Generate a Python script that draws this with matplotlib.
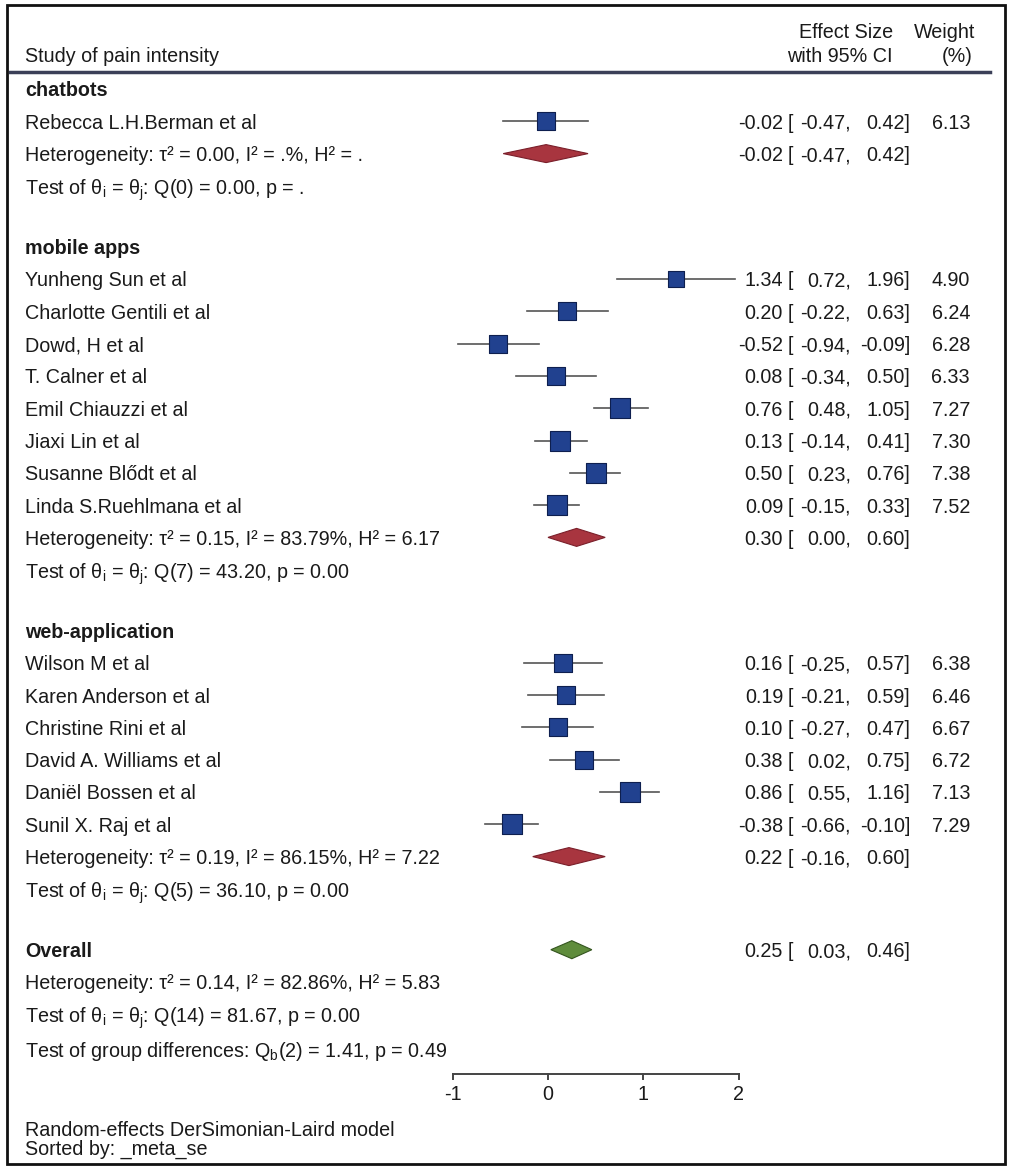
import numpy as np
import matplotlib
matplotlib.use('Agg')
import matplotlib.pyplot as plt
from matplotlib.patches import Rectangle
from matplotlib.transforms import blended_transform_factory

plt.rcParams['font.family'] = ['Liberation Sans', 'DejaVu Sans']
plt.rcParams['mathtext.fontset'] = 'custom'
plt.rcParams['mathtext.rm'] = 'Liberation Sans'
plt.rcParams['mathtext.it'] = 'Liberation Sans:italic'
plt.rcParams['mathtext.default'] = 'regular'

# data
groups = ['chatbots', 'mobile apps', 'web-application']
studies = [
    ['Rebecca L.H.Berman et al'],
    ['Yunheng Sun et al', 'Charlotte Gentili et al', 'Dowd, H et al', 'T. Calner et al',
     'Emil Chiauzzi et al', 'Jiaxi Lin et al', 'Susanne Blődt et al', 'Linda S.Ruehlmana et al'],
    ['Wilson M et al', 'Karen Anderson et al', 'Christine Rini et al', 'David A. Williams et al',
     'Daniël Bossen et al', 'Sunil X. Raj et al'],
]
est = [[-0.02], [1.34, 0.20, -0.52, 0.08, 0.76, 0.13, 0.50, 0.09],
       [0.16, 0.19, 0.10, 0.38, 0.86, -0.38]]
lo = [[-0.47], [0.72, -0.22, -0.94, -0.34, 0.48, -0.14, 0.23, -0.15],
      [-0.25, -0.21, -0.27, 0.02, 0.55, -0.66]]
hi = [[0.42], [1.96, 0.63, -0.09, 0.50, 1.05, 0.41, 0.76, 0.33],
      [0.57, 0.59, 0.47, 0.75, 1.16, -0.10]]
weights = [[6.13], [4.90, 6.24, 6.28, 6.33, 7.27, 7.30, 7.38, 7.52],
           [6.38, 6.46, 6.67, 6.72, 7.13, 7.29]]
pooled_est = [-0.02, 0.30, 0.22]
pooled_lo = [-0.47, 0.00, -0.16]
pooled_hi = [0.42, 0.60, 0.60]
het_text = [r'Heterogeneity: τ² = 0.00, I² = .%, H² = .',
            r'Heterogeneity: τ² = 0.15, I² = 83.79%, H² = 6.17',
            r'Heterogeneity: τ² = 0.19, I² = 86.15%, H² = 7.22']
test_text = [r'Test of θ$_i$ = θ$_j$: Q(0) = 0.00, p = .',
             r'Test of θ$_i$ = θ$_j$: Q(7) = 43.20, p = 0.00',
             r'Test of θ$_i$ = θ$_j$: Q(5) = 36.10, p = 0.00']
overall = (0.25, 0.03, 0.46)
overall_het = r'Heterogeneity: τ² = 0.14, I² = 82.86%, H² = 5.83'
overall_test = r'Test of θ$_i$ = θ$_j$: Q(14) = 81.67, p = 0.00'
group_diff = r'Test of group differences: Q$_b$(2) = 1.41, p = 0.49'
xticks = [-1, 0, 1, 2]

W, H = 1013, 1170
fig = plt.figure(figsize=(W / 100, H / 100), dpi=100)
ax = fig.add_axes([0, 0, 1, 1])
x0, ppu = 548, 95.3
ax.set_xlim(-x0 / ppu, (W - x0) / ppu)
ax.set_ylim(H, 0)
ax.axis('off')
tr = blended_transform_factory(fig.transFigure, ax.transData)

fs = 14.2
tc = '#1a1a1a'
navy = '#21418f'
red = '#a8353f'
green = '#5f8c3c'


def txt(px, y, s, ha='left', bold=False):
    ax.text(px / W, y, s, transform=tr, ha=ha, va='center_baseline', fontsize=fs,
            color=tc, fontweight='bold' if bold else 'normal')


def left(y, s, bold=False):
    txt(25, y, s, bold=bold)


def ci_cols(y, e, l, h, w=None):
    txt(783, y, '%.2f' % e, ha='right')
    txt(788, y, '[', ha='left')
    txt(851, y, '%.2f,' % l, ha='right')
    txt(910, y, '%.2f]' % h, ha='right')
    if w is not None:
        txt(970, y, '%.2f' % w, ha='right')


def diamond(y, e, l, h, color, edge):
    ax.fill([l, e, h, e], [y, y - 9, y, y + 9], facecolor=color, edgecolor=edge, lw=0.8, zorder=3)


# header
txt(25, 55, 'Study of pain intensity')
txt(893, 30, 'Effect Size', ha='right')
txt(893, 55, 'with 95% CI', ha='right')
txt(975, 30, 'Weight', ha='right')
txt(957, 55, '(%)', ha='center')
ax.plot([10 / W, 990 / W], [72, 72], transform=tr, color='#3b4058', lw=2.5)

step = 32.3
gap = 28.5
y = 89
for g in range(len(groups)):
    left(y, groups[g], bold=True)
    y += step
    for i in range(len(studies[g])):
        left(y, studies[g][i])
        ax.plot([lo[g][i], hi[g][i]], [y, y], color='#555555', lw=1.2, zorder=2)
        side = 18 * np.sqrt(weights[g][i] / 6.13) * 0.72
        ax.scatter([est[g][i]], [y], marker='s', s=side ** 2, color=navy,
                   edgecolors='#0e1f4f', linewidths=0.8, zorder=4)
        ci_cols(y, est[g][i], lo[g][i], hi[g][i], weights[g][i])
        y += step
    left(y, het_text[g])
    diamond(y, pooled_est[g], pooled_lo[g], pooled_hi[g], red, '#7a1f2a')
    ci_cols(y, pooled_est[g], pooled_lo[g], pooled_hi[g])
    y += step
    left(y, test_text[g])
    y += step + gap

left(y, 'Overall', bold=True)
diamond(y, overall[0], overall[1], overall[2], green, '#34551f')
ci_cols(y, *overall)
y += step
left(y, overall_het)
y += step
left(y, overall_test)
y += step + 2
left(y, group_diff)

# x axis
ya = 1074
ax.plot([xticks[0], xticks[-1]], [ya, ya], color='#444444', lw=1.4)
for t in xticks:
    ax.plot([t, t], [ya, ya + 5], color='#444444', lw=1.4)
    ax.text(t, ya + 19, '%d' % t, ha='center', va='center_baseline', fontsize=fs, color=tc)

# footnote
txt(25, 1129, 'Random-effects DerSimonian-Laird model')
txt(25, 1147, 'Sorted by: _meta_se')

# outer frame
fig.patches.append(Rectangle((7 / W, 1 - 1164 / H), 998 / W, 1159 / H, transform=fig.transFigure,
                             fill=False, edgecolor='#111111', lw=2))

fig.savefig('out.png', dpi=100)
